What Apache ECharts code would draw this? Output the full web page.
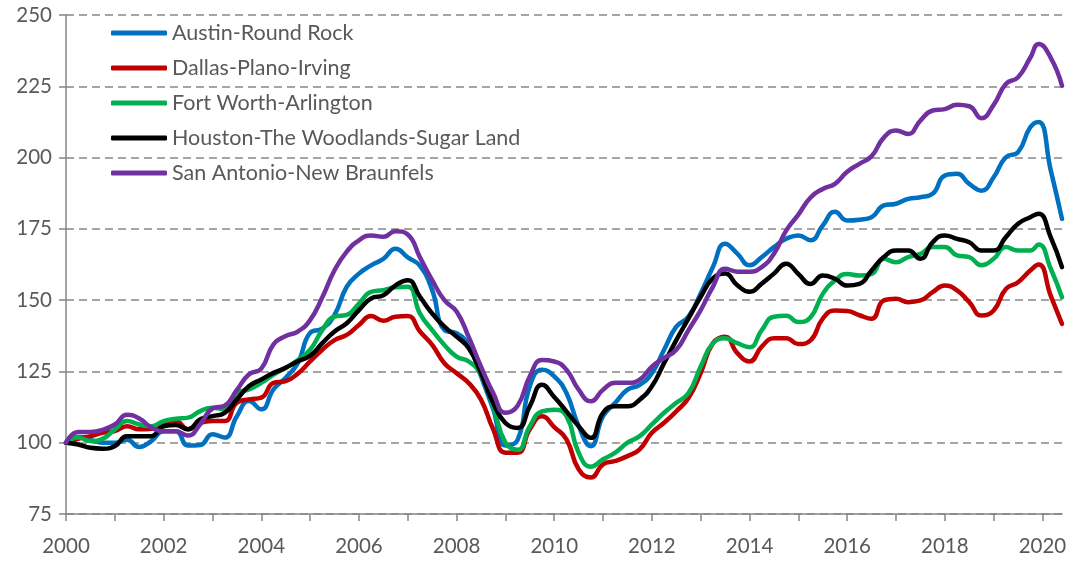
<!DOCTYPE html>
<html>
<head>
<meta charset="utf-8">
<script src="https://cdn.jsdelivr.net/npm/echarts/dist/echarts.min.js"></script>
<style>
html, body { margin: 0; padding: 0; background: #fff; }
#mycharts { width: 1078px; height: 562px; }
</style>
</head>
<body>
<div id="mycharts"></div>
<script>
// 日期（季度，最后几个点按月份位置）
var dates = [
	2000, 2000.25, 2000.5, 2000.75, 2001, 2001.25, 2001.5, 2001.75,
	2002, 2002.25, 2002.5, 2002.75, 2003, 2003.25, 2003.5, 2003.75,
	2004, 2004.25, 2004.5, 2004.75, 2005, 2005.25, 2005.5, 2005.75,
	2006, 2006.25, 2006.5, 2006.75, 2007, 2007.25, 2007.5, 2007.75,
	2008, 2008.25, 2008.5, 2008.75, 2009, 2009.25, 2009.5, 2009.75,
	2010, 2010.25, 2010.5, 2010.75, 2011, 2011.25, 2011.5, 2011.75,
	2012, 2012.25, 2012.5, 2012.75, 2013, 2013.25, 2013.5, 2013.75,
	2014, 2014.25, 2014.5, 2014.75, 2015, 2015.25, 2015.5, 2015.75,
	2016, 2016.25, 2016.5, 2016.75, 2017, 2017.25, 2017.5, 2017.75,
	2018, 2018.25, 2018.5, 2018.75, 2019, 2019.25, 2019.5, 2019.75,
	2019.92, 2020.17, 2020.4
];
var austin = [
	100, 102, 101, 100, 100, 101, 98.5, 100.6,
	104, 104, 99, 99.2, 103, 101.8, 109.3, 114.6,
	111.7, 118.7, 122.8, 128, 138.5, 140, 144.8, 154.7,
	159.3, 162.2, 164.5, 168, 165, 162, 153.5, 139.5,
	138.4, 134, 123.3, 111.7, 99, 101, 119.8, 125.6,
	123.3, 117.4, 105.8, 98.8, 109.3, 114, 118.6, 120.3,
	124.4, 132.6, 140.7, 144.2, 152.3, 161.6, 169.8, 166.3,
	162.2, 165.1, 168.6, 171.5, 172.7, 171, 176.2, 181,
	177.9, 178.2, 179.1, 183.2, 183.8, 185.5, 186.1, 187.3,
	193.7, 194.3, 190.8, 188.4, 193.1, 200.1, 201.9, 210.6,
	212.5, 195.5, 178.5
];
var dallas = [
	100, 101.4, 102.3, 103.5, 104.1, 105.8, 104.7, 104.9,
	107, 107.5, 104.7, 107, 107.6, 107.6, 114, 115.2,
	115.8, 121, 121.6, 124.3, 128.5, 132.6, 136, 137.8,
	141.3, 144.4, 142.8, 144.2, 144.4, 139, 134.3, 127.9,
	124.4, 120.9, 115.1, 104.7, 96.5, 96.5, 104.7, 109.3,
	105.5, 101.2, 90.7, 87.8, 92.4, 93.6, 95.3, 97.7,
	103.5, 107, 111, 115.7, 124.4, 134.9, 137.2, 131.4,
	128.5, 133.7, 136.6, 136.6, 134.6, 135.9, 143.5, 146.4,
	146.2, 144.7, 143.5, 149.9, 150.5, 149.3, 149.9, 152.8,
	155.1, 153.4, 149.3, 144.6, 146.4, 153.9, 156.3, 160.4,
	162.5, 151.5, 141.7
];
var fortWorth = [
	100, 101.8, 100.6, 101.4, 104.7, 107.6, 106.4, 105.8,
	107.6, 108.4, 108.8, 111.1, 112.3, 111.7, 117.5, 118.7,
	121, 123.9, 126.3, 129, 132.6, 139.5, 144.2, 144.8,
	148.8, 152.9, 153.5, 154.5, 154.7, 145.3, 139.5, 134.3,
	130.2, 128.5, 123.8, 112.8, 100, 97.5, 105.8, 111,
	111.6, 109.3, 96.5, 91.6, 94.2, 96.5, 100, 102.3,
	106.4, 110.5, 114, 117.4, 126.7, 134.9, 136.6, 134.9,
	133.5, 139.5, 144.2, 144.5, 142.3, 144, 152.2, 156.9,
	159.2, 158.6, 159.2, 164.5, 163.3, 165.1, 166.2, 168.6,
	168.6, 165.7, 165.1, 162.2, 164.5, 168.6, 167.4, 167.4,
	169.5, 161, 151
];
var houston = [
	100, 99.4, 98.2, 97.9, 98.8, 102.3, 102.3, 102.3,
	105.8, 106.2, 104.7, 108.2, 109.3, 110.5, 115.2, 119.9,
	122.2, 124.5, 126.3, 128.6, 130.5, 134.9, 139, 141.9,
	146.5, 150.6, 151.7, 155.2, 157, 151.2, 145.3, 140.7,
	137.2, 133.1, 124.4, 113.9, 106.9, 105.2, 112.8, 120.3,
	116, 111, 105.8, 101.7, 110.5, 112.8, 112.8, 115.1,
	119.8, 127.9, 136, 143.6, 151.2, 157.6, 159.3, 155.2,
	152.9, 155.8, 159.3, 162.8, 159.2, 155.7, 158.6, 157.5,
	155.1, 155.7, 160.4, 165.1, 167.4, 167.4, 164.5, 170.3,
	172.7, 171.5, 170.3, 167.4, 167.4, 172.1, 176.8, 179.1,
	180.3, 172, 161.6
];
var sanAntonio = [
	100, 103.8, 103.8, 104.5, 106.4, 109.8, 108.5, 105.3,
	104, 104, 102.5, 106.5, 112, 113, 118.5, 124,
	126, 134.5, 137.4, 139, 143, 151, 160.5, 167,
	171, 172.7, 172.2, 174.2, 173, 165, 157, 150,
	146, 137, 126.7, 117.4, 110.5, 113, 123.3, 129,
	128.5, 125.6, 118.6, 114.5, 118.6, 121, 121, 122.1,
	126.7, 129.7, 132.6, 139.5, 146.5, 154.7, 161, 160,
	160, 161.6, 166.3, 174.4, 180, 186, 189, 190.8,
	195, 197.8, 200.5, 207, 209.5, 208.3, 213, 216.5,
	217, 218.5, 218, 213.8, 218.5, 225.8, 228.2, 235,
	239.8, 235, 225.2
];
var names = ['Austin-Round Rock', 'Dallas-Plano-Irving', 'Fort Worth-Arlington',
	'Houston-The Woodlands-Sugar Land', 'San Antonio-New Braunfels'];
var colors = ['#0070C0', '#C00000', '#00B050', '#000000', '#7030A0'];
var yTicks = [75, 100, 125, 150, 175, 200, 225, 250];

function pairs(values) {
	var out = [];
	for (var i = 0; i < dates.length; i++) {
		out.push([dates[i], values[i]]);
	}
	return out;
}

var myChart = echarts.init(document.getElementById('mycharts'));
var allValues = [austin, dallas, fortWorth, houston, sanAntonio];
var series = [];
for (var i = 0; i < names.length; i++) {
	series.push({
		name: names[i],
		type: 'line',
		data: pairs(allValues[i]),
		smooth: 0.5,
		symbol: 'none',
		lineStyle: { width: 4.5, color: colors[i], cap: 'round', join: 'round' },
		itemStyle: { color: colors[i] }
	});
}

myChart.setOption({
	animation: false,
	textStyle: { fontFamily: 'Lato' },
	grid: { left: 66, right: 16, top: 15, bottom: 48 },
	legend: {
		orient: 'vertical',
		left: 106,
		top: 17,
		icon: 'roundRect',
		itemWidth: 56,
		itemHeight: 5,
		itemGap: 13,
		data: names,
		textStyle: { fontSize: 21.5, color: '#595959', lineHeight: 21, fontFamily: 'Lato' }
	},
	xAxis: {
		type: 'value',
		min: 2000,
		max: 2020.4,
		interval: 1,
		axisLine: { lineStyle: { color: '#868686', width: 1.5 } },
		axisTick: { show: true, length: 7, lineStyle: { color: '#868686', width: 1.5 } },
		axisLabel: {
			fontSize: 20.5,
			color: '#595959',
			margin: 22,
			showMaxLabel: false,
			formatter: function (v) {
				if (Math.abs(v - Math.round(v)) > 0.01) return '';
				return Math.round(v) % 2 === 0 ? String(Math.round(v)) : '';
			}
		},
		splitLine: { show: false }
	},
	yAxis: {
		type: 'value',
		min: yTicks[0],
		max: yTicks[yTicks.length - 1],
		interval: 25,
		axisLine: { show: true, lineStyle: { color: '#868686', width: 1.5 } },
		axisTick: { show: true, length: 7, lineStyle: { color: '#868686', width: 1.5 } },
		axisLabel: { fontSize: 20.5, color: '#595959', margin: 14 },
		splitLine: { lineStyle: { color: '#888888', width: 1.5, type: [8, 5] } }
	},
	series: series
});
</script>
</body>
</html>
